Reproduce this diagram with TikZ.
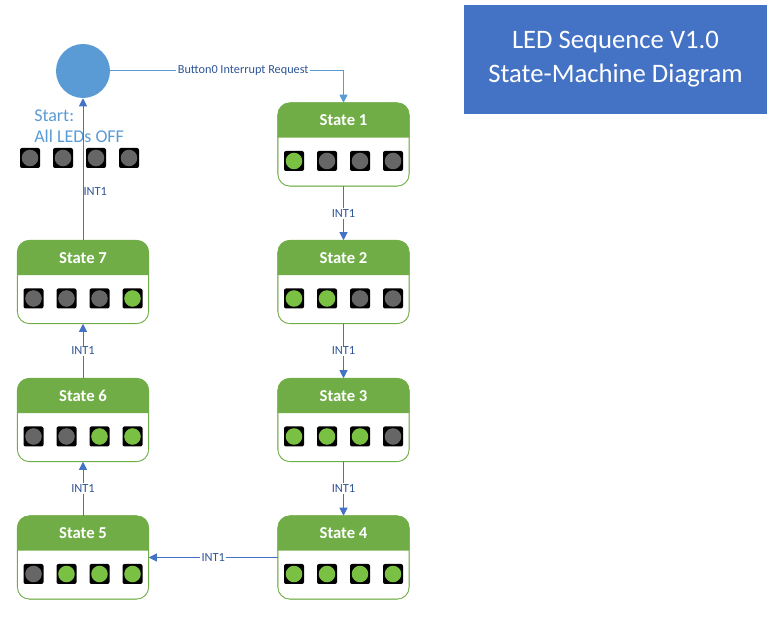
\documentclass[tikz,border=0pt]{standalone}
\usepackage{fontspec}
\setmainfont{Carlito}
\usepackage{tikz}
\usetikzlibrary{arrows.meta,positioning,calc}
\definecolor{hdgreen}{HTML}{70AD47}
\definecolor{lamp1}{HTML}{7AC143}
\definecolor{lamp0}{HTML}{666666}
\definecolor{startblue}{HTML}{5B9BD5}
\definecolor{titleblue}{HTML}{4472C4}
\definecolor{arrblue}{HTML}{4472C4}
\definecolor{lblblue}{HTML}{2F5597}

\begin{document}
\begin{tikzpicture}[x=0.75pt, y=-0.75pt,
    stbody/.style={draw=hdgreen, fill=white, rounded corners=9pt, minimum width=98.25pt, minimum height=62.25pt, inner sep=0pt},
    sttitle/.style={font=\fontsize{12.5}{14}\selectfont\bfseries, text=white, inner sep=0pt},
    lamp/.style={fill=black, rounded corners=1.5pt, minimum size=15pt, inner sep=0pt,
        path picture={\fill[lamp#1] (path picture bounding box.center) circle (6.2pt);}},
    startdot/.style={circle, fill=startblue, minimum size=40.5pt, inner sep=0pt},
    starttxt/.style={font=\fontsize{13.5}{15.75}\selectfont, text=startblue, align=left, inner sep=0pt},
    titlebox/.style={fill=titleblue, minimum width=227.25pt, minimum height=81.75pt, align=center, text=white, font=\fontsize{20}{25.5}\selectfont},
    arr/.style={-{Triangle[length=6pt, width=6pt]}, draw=arrblue, line width=0.75pt},
    lbl/.style={font=\fontsize{9.3}{11}\selectfont, text=lblblue, fill=white, inner sep=1pt}
]
\useasboundingbox (0,0) rectangle (782,630);

\node[titlebox] (title) at (615.5,59.5) {LED Sequence V1.0\\State-Machine Diagram};

\node[startdot] (start) at (83,71) {};
\node[starttxt, anchor=west] (starttext) at (34,126) {Start:\\All LEDs OFF};
\foreach \i in {1,...,4}
    \node[lamp=0] (off\i) at ({-3+33*\i},158) {};

\foreach \n/\x/\y/\pat in {1/343.5/144.5/{1,0,0,0}, 2/343.5/282/{1,1,0,0},
        3/343.5/420/{1,1,1,0}, 4/343.5/557.5/{1,1,1,1}, 5/83/557.5/{0,1,1,1},
        6/83/420/{0,0,1,1}, 7/83/282/{0,0,0,1}} {
    \node[stbody] (s\n) at (\x,\y) {};
    \fill[hdgreen] ([yshift=-26.25pt]s\n.north west) [rounded corners=9pt] -- (s\n.north west)
        -- (s\n.north east) [sharp corners] -- ([yshift=-26.25pt]s\n.north east) -- cycle;
    \draw[hdgreen, rounded corners=9pt] (s\n.south west) rectangle (s\n.north east);
    \node[sttitle] (s\n-t) at ([yshift=-13.1pt]s\n.north) {State \n};
    \foreach \v [count=\i] in \pat
        \node[lamp=\v] (s\n-l\i) at ({\x-82.5+33*\i},\y+16.5) {};
}

\draw[arr, draw=startblue] (start) -| node[lbl, pos=0.285, font=\fontsize{9.2}{11}\selectfont] {Button0 Interrupt Request} (s1);
\draw[arr] (s1) -- node[lbl] {INT1} (s2);
\draw[arr] (s2) -- node[lbl] {INT1} (s3);
\draw[arr] (s3) -- node[lbl] {INT1} (s4);
\draw[arr] (s4) -- node[lbl] {INT1} (s5);
\draw[arr] (s5) -- node[lbl] {INT1} (s6);
\draw[arr] (s6) -- node[lbl] {INT1} (s7);
\draw[arr] (s7) -- node[lbl, fill=none, anchor=west, inner sep=0pt, pos=0.34] {INT1} (start);
\end{tikzpicture}
\end{document}
